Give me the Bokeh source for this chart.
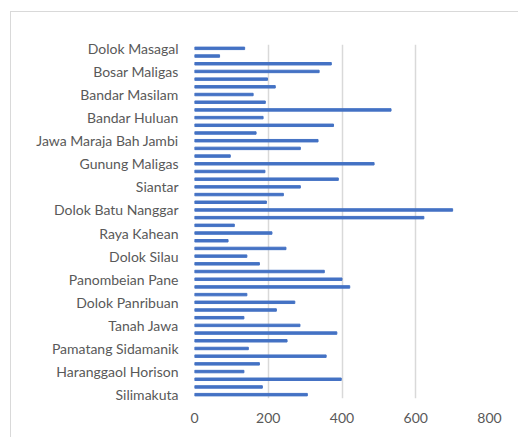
from bokeh.plotting import figure
from bokeh.models import Range1d, FixedTicker, ColumnDataSource
from bokeh.embed import file_html
from bokeh.resources import INLINE

# Values for the 46 bars, top to bottom
values = [136, 68, 371, 338, 198, 219, 159, 192, 533, 186,
          377, 167, 335, 287, 97, 487, 191, 390, 287, 241,
          195, 700, 622, 108, 210, 91, 248, 142, 176, 352,
          400, 421, 142, 272, 222, 134, 286, 386, 251, 146,
          357, 176, 134, 398, 184, 306]

# Category labels shown on the axis (every third bar, top to bottom)
tick_labels = ["Dolok Masagal", "Bosar Maligas", "Bandar Masilam", "Bandar Huluan",
               "Jawa Maraja Bah Jambi", "Gunung Maligas", "Siantar", "Dolok Batu Nanggar",
               "Raya Kahean", "Dolok Silau", "Panombeian Pane", "Dolok Panribuan",
               "Tanah Jawa", "Pamatang Sidamanik", "Haranggaol Horison", "Silimakuta"]
label_step = 3
x_ticks = [0, 200, 400, 600, 800]

n = len(values)
src = ColumnDataSource(dict(y=list(range(n)), v=values))

W, H = 508, 426
p = figure(width=W, height=H, output_backend="svg", toolbar_location=None,
           x_range=Range1d(0, 800), y_range=Range1d(n - 0.5, -0.5),
           min_border_left=183, min_border_right=W - 478,
           min_border_top=32, min_border_bottom=H - 386,
           margin=(11, 0, 0, 10),
           styles={"border-left": "1px solid #d9d9d9", "border-top": "1px solid #d9d9d9"})

p.hbar(y="y", right="v", left=0, height=0.32, color="#4472C4", source=src)

p.outline_line_color = None
p.background_fill_color = "white"
p.border_fill_color = "white"

font = "Lato"
tick_pos = list(range(0, n, label_step))
p.yaxis.ticker = FixedTicker(ticks=tick_pos)
p.yaxis.major_label_overrides = {t: lab for t, lab in zip(tick_pos, tick_labels)}
p.yaxis.axis_line_color = None
p.yaxis.major_tick_line_color = None
p.yaxis.minor_tick_line_color = None
p.yaxis.major_label_standoff = 10
p.yaxis.major_label_text_font = font
p.yaxis.major_label_text_font_size = "14px"
p.yaxis.major_label_text_color = "#595959"

p.xaxis.ticker = FixedTicker(ticks=x_ticks)
p.xaxis.axis_line_color = None
p.xaxis.major_tick_line_color = None
p.xaxis.minor_tick_line_color = None
p.xaxis.major_label_standoff = 8
p.xaxis.major_label_text_font = font
p.xaxis.major_label_text_font_size = "14px"
p.xaxis.major_label_text_color = "#595959"

p.ygrid.grid_line_color = None
p.xgrid.grid_line_color = "#d9d9d9"
p.xgrid.grid_line_width = 1.5

open("out.html", "w").write(file_html(p, INLINE))
